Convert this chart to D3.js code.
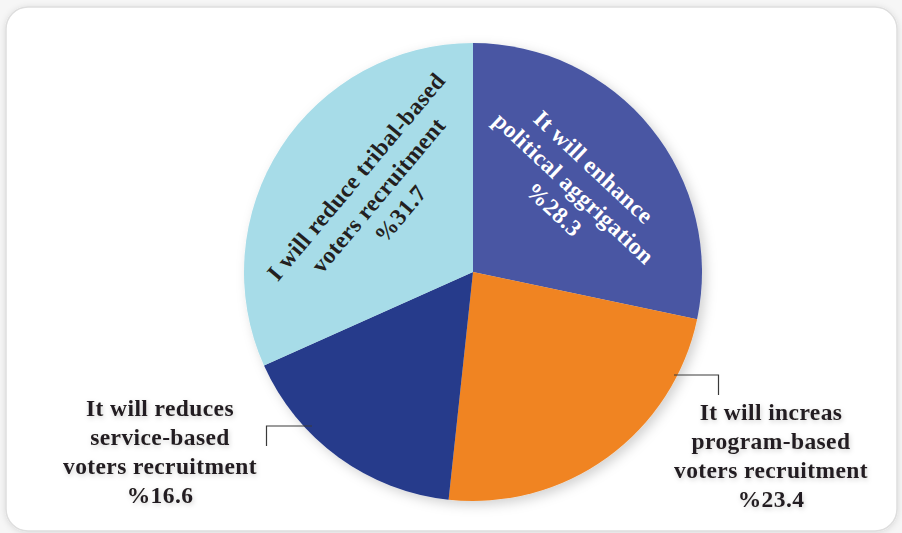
<!DOCTYPE html>
<html>
<head>
<meta charset="utf-8">
<script src="https://cdn.jsdelivr.net/npm/d3@7"></script>
<style>
  html, body { margin: 0; padding: 0; background: #f6f6f6; }
  svg { display: block; }
</style>
</head>
<body>
<svg id="chart" width="902" height="533"></svg>
<script>
// Slice data, clockwise from 12 o'clock
const categories = [
  "It will enhance political aggrigation",
  "It will increas program-based voters recruitment",
  "It will reduces service-based voters recruitment",
  "I will reduce tribal-based voters recruitment"
];
const values = [28.3, 23.4, 16.6, 31.7];
const labelLines = [
  ["It will enhance", "political aggrigation", "%28.3"],
  ["It will increas", "program-based", "voters recruitment", "%23.4"],
  ["It will reduces", "service-based", "voters recruitment", "%16.6"],
  ["I will reduce tribal-based", "voters recruitment", "%31.7"]
];
const colors = ["#4857a3", "#f08422", "#263b8b", "#a7dce8"];

const svg = d3.select("#chart");
const cx = 473, cy = 272, R = 229;

const defs = svg.append("defs");
const sh = defs.append("filter").attr("id", "pieShadow")
  .attr("x", "-20%").attr("y", "-20%").attr("width", "140%").attr("height", "140%");
sh.append("feDropShadow").attr("dx", 4).attr("dy", 4).attr("stdDeviation", 6)
  .attr("flood-color", "#000").attr("flood-opacity", 0.18);
const fr = defs.append("filter").attr("id", "frameShadow")
  .attr("x", "-5%").attr("y", "-5%").attr("width", "110%").attr("height", "110%");
fr.append("feDropShadow").attr("dx", 0).attr("dy", 1).attr("stdDeviation", 3)
  .attr("flood-color", "#000").attr("flood-opacity", 0.12);
const ts = defs.append("filter").attr("id", "textShadow")
  .attr("x", "-10%").attr("y", "-30%").attr("width", "120%").attr("height", "160%");
ts.append("feDropShadow").attr("dx", 1).attr("dy", 2).attr("stdDeviation", 2.5)
  .attr("flood-color", "#000").attr("flood-opacity", 0.18);

// Card frame
svg.append("rect")
  .attr("x", 6).attr("y", 7).attr("width", 891).attr("height", 524)
  .attr("rx", 22).attr("ry", 22)
  .attr("fill", "#ffffff").attr("stroke", "#dedede").attr("stroke-width", 1.5)
  .attr("filter", "url(#frameShadow)");

const pie = d3.pie().sort(null).value(d => d)(values);
const arc = d3.arc().innerRadius(0).outerRadius(R);

const g = svg.append("g").attr("transform", `translate(${cx},${cy})`);
g.append("g").attr("filter", "url(#pieShadow)")
  .selectAll("path").data(pie).join("path")
  .attr("d", arc)
  .attr("fill", (d, i) => colors[i]);

const font = "'Liberation Serif', 'DejaVu Serif', serif";
const lh = 29;

function block(parent, lines, x, y, rot, fill, shadow) {
  const t = parent.append("text")
    .attr("transform", `translate(${x},${y}) rotate(${rot})`)
    .attr("text-anchor", "middle")
    .attr("font-family", font)
    .attr("font-weight", "bold")
    .attr("font-size", 23.5)
    .attr("letter-spacing", 0.4)
    .attr("fill", fill);
  if (shadow) t.attr("filter", "url(#textShadow)");
  const n = lines.length;
  lines.forEach((s, k) => {
    t.append("tspan").attr("x", 0)
      .attr("y", (k - (n - 1) / 2) * lh)
      .attr("dy", "0.35em")
      .text(s);
  });
}

// In-slice labels (rotated)
block(g, labelLines[0], 101, -84, 43, "#ffffff", false);
block(g, labelLines[3], -95, -77, -50, "#231f20", false);

// Outside labels with leader lines
const leader = svg.append("g").attr("fill", "none").attr("stroke", "#3a3a3a").attr("stroke-width", 1.2);
leader.append("path").attr("d", "M 266.5 446 V 426 H 312");
leader.append("path").attr("d", "M 674 375 H 718.5 V 395");

block(svg, labelLines[2], 160, 451, 0, "#231f20", true);
block(svg, labelLines[1], 771, 455, 0, "#231f20", true);
</script>
</body>
</html>
